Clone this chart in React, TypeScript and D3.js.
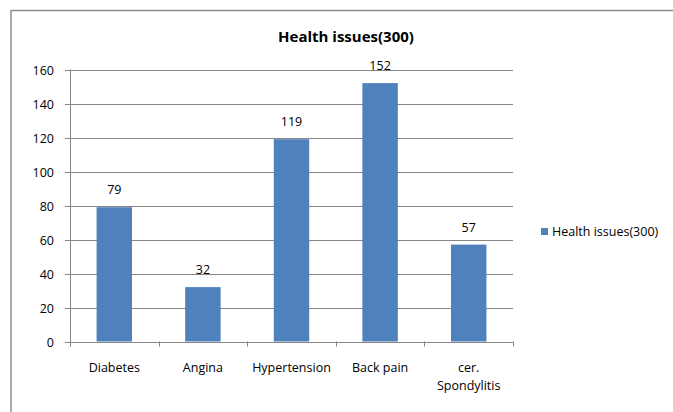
import React, { useEffect, useRef } from "react";
import * as d3 from "d3";

const categories = ["Diabetes", "Angina", "Hypertension", "Back pain", "cer. Spondylitis"];
const values = [79, 32, 119, 152, 57];
const yTicks = [0, 20, 40, 60, 80, 100, 120, 140, 160];
const seriesName = "Health issues(300)";

const FONT = "'Open Sans', 'Noto Sans', sans-serif";
const FS = "12.5px";

export default function App() {
  const ref = useRef<SVGSVGElement>(null);

  useEffect(() => {
    const svg = d3.select(ref.current);
    svg.selectAll("*").remove();

    const W = 673;
    const H = 412;
    const left = 70;
    const right = 513;
    const top = 69.5;
    const bottom = 341.5;

    // chart frame (only top and left edges visible)
    svg.append("line").attr("x1", 11).attr("x2", W).attr("y1", 10.5).attr("y2", 10.5)
      .attr("stroke", "#8c8c8c").attr("stroke-width", 1.5);
    svg.append("line").attr("x1", 11).attr("x2", 11).attr("y1", 10).attr("y2", H)
      .attr("stroke", "#8c8c8c").attr("stroke-width", 1.5);

    const x = d3.scaleBand().domain(categories).range([left, right]).paddingInner(0).paddingOuter(0);
    const y = d3.scaleLinear().domain([0, 160]).range([bottom, top]);

    // gridlines + y ticks
    const yAxis = svg.append("g");
    yTicks.forEach((t) => {
      const yy = Math.round(y(t)) + 0.5;
      yAxis.append("line").attr("x1", left - 5).attr("x2", right).attr("y1", yy).attr("y2", yy)
        .attr("stroke", "#868686").attr("stroke-width", 1);
      yAxis.append("text").attr("x", 54).attr("y", yy).attr("dy", "0.35em")
        .attr("text-anchor", "end").style("font-family", FONT).style("font-size", FS)
        .attr("fill", "#000").text(t);
    });

    // y axis line
    svg.append("line").attr("x1", left + 0.5).attr("x2", left + 0.5).attr("y1", top).attr("y2", bottom + 5)
      .attr("stroke", "#868686");

    // x category ticks
    const edges = categories.map((c) => x(c) as number).concat([right]);
    edges.forEach((e) => {
      svg.append("line").attr("x1", Math.round(e) + 0.5).attr("x2", Math.round(e) + 0.5)
        .attr("y1", bottom).attr("y2", bottom + 5).attr("stroke", "#868686");
    });

    // bars
    const bw = x.bandwidth() * 0.4;
    svg.append("g").selectAll("rect").data(values).enter().append("rect")
      .attr("x", (d, i) => (x(categories[i]) as number) + (x.bandwidth() - bw) / 2)
      .attr("y", (d) => y(d))
      .attr("width", bw)
      .attr("height", (d) => bottom - y(d))
      .attr("fill", "#4f81bd");

    // value labels
    svg.append("g").selectAll("text").data(values).enter().append("text")
      .attr("x", (d, i) => (x(categories[i]) as number) + x.bandwidth() / 2)
      .attr("y", (d) => y(d) - 13)
      .attr("text-anchor", "middle")
      .style("font-family", FONT).style("font-size", FS).attr("fill", "#000")
      .text((d) => d);

    // category labels
    categories.forEach((c) => {
      const cx = (x(c) as number) + x.bandwidth() / 2;
      const lines = c === "cer. Spondylitis" ? ["cer.", "Spondylitis"] : [c];
      lines.forEach((ln, j) => {
        svg.append("text").attr("x", cx).attr("y", 371.5 + j * 18).attr("text-anchor", "middle")
          .style("font-family", FONT).style("font-size", FS).attr("fill", "#000").text(ln);
      });
    });

    // title
    svg.append("text").attr("x", 346).attr("y", 42).attr("text-anchor", "middle")
      .style("font-family", FONT).style("font-size", "15px").style("font-weight", "bold")
      .attr("fill", "#000").text(seriesName);

    // legend
    svg.append("rect").attr("x", 541).attr("y", 228).attr("width", 7).attr("height", 7).attr("fill", "#4f81bd");
    svg.append("text").attr("x", 552).attr("y", 235.5).style("font-family", FONT).style("font-size", FS)
      .attr("fill", "#000").text(seriesName);
  }, []);

  return (
    <svg
      ref={ref}
      width={673}
      height={412}
      style={{ position: "absolute", left: 0, top: 0, background: "#fff" }}
    ></svg>
  );
}
